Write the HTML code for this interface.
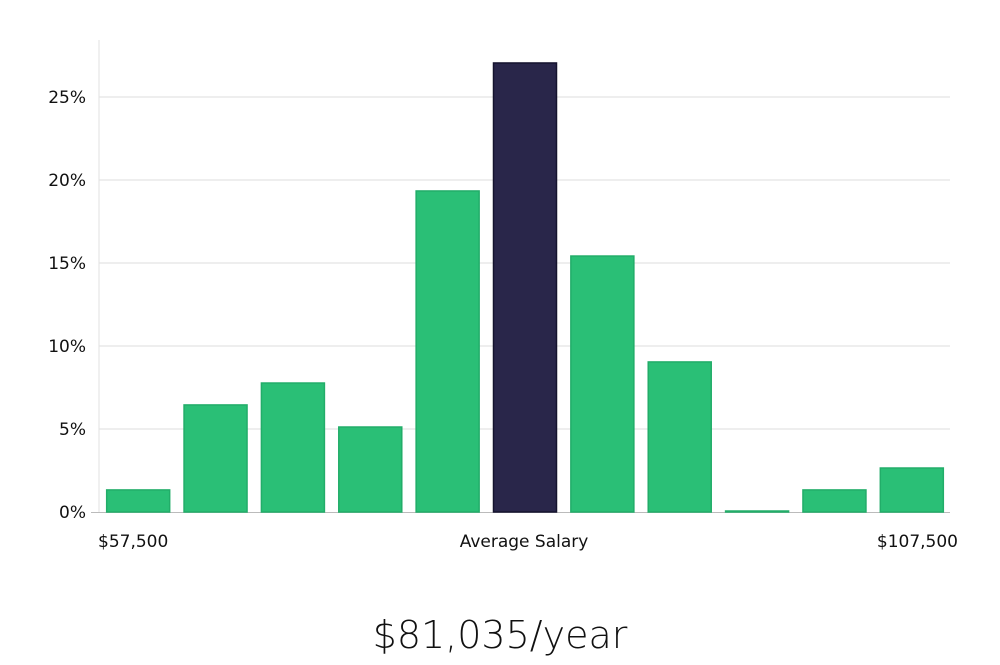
<!DOCTYPE html>
<html><head><meta charset="utf-8"><style>
body{margin:0;background:#fff;width:1000px;height:660px;overflow:hidden}
svg text{font-family:"DejaVu Sans","Liberation Sans",sans-serif;fill:#111}
</style></head><body>
<svg id="chart" width="1000" height="660" xmlns="http://www.w3.org/2000/svg"></svg>
<script>
const categories=["b1","b2","b3","b4","b5","b6","b7","b8","b9","b10","b11"];
const values=[1.33,6.45,7.77,5.12,19.34,27.05,15.42,9.04,0.06,1.33,2.65];
const highlightIndex=5;
const yTicks=[0,5,10,15,20,25];
const xLabels=["$57,500","Average Salary","$107,500"];
const NS="http://www.w3.org/2000/svg";
const svg=document.getElementById('chart');
const left=99,right=950,y0=512,pxPer=16.6;
const step=(right-left)/categories.length,bw=63;
const y=v=>y0-v*pxPer;
const x=i=>left+i*step+(step-bw)/2+0.5;
function mk(t,a){const e=document.createElementNS(NS,t);for(const k in a)e.setAttribute(k,a[k]);svg.appendChild(e);return e;}
yTicks.forEach(t=>{
 if(t>0){const g=mk('line',{x1:left,x2:right,y1:y(t),y2:y(t),stroke:'#dedede','stroke-width':1});
 
 }
 const l=mk('text',{x:86,y:y(t)+6,'text-anchor':'end','font-size':17});
 l.textContent=t+'%';
 
 
});
const ax=mk('line',{x1:left,x2:left,y1:40,y2:y0,stroke:'#e2e2e2'});


const bx=mk('line',{x1:left-8,x2:right,y1:y0+0.5,y2:y0+0.5,stroke:'#bbb'});


values.forEach((v,i)=>{
 const hi=i===highlightIndex;
 const r=mk('rect',{x:x(i),y:y(v),width:bw,height:Math.max(0.8,v*pxPer),fill:hi?'#29264a':'#2abf76',stroke:hi?'#15132e':'#22ad69','stroke-width':1.5});
 
 
});
const xl=[[98,'start'],[524,'middle'],[958,'end']];
xLabels.forEach((s,i)=>{
 const t=mk('text',{x:xl[i][0],y:547,'text-anchor':xl[i][1],'font-size':17});
 t.textContent=s;
 
 
});
const tt=mk('text',{x:500,y:648,'text-anchor':'middle','font-size':38,'font-weight':300,fill:'#222'});
tt.textContent='$81,035/year';


</script>
</body></html>
